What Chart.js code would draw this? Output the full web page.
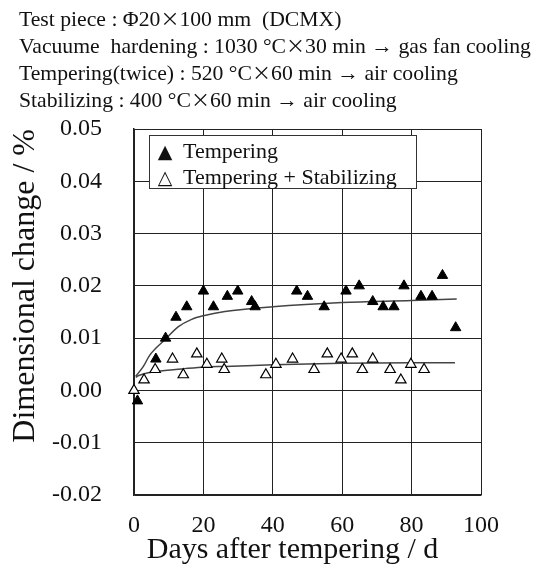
<!DOCTYPE html>
<html><head><meta charset="utf-8">
<script src="https://cdn.jsdelivr.net/npm/chart.js@4.4.1/dist/chart.umd.min.js"></script>
<style>
html,body{margin:0;padding:0;background:#fff;}
#wrap{position:relative;width:543px;height:565px;overflow:hidden;background:#fff;}
#c{position:absolute;left:0;top:0;}
#header{position:absolute;left:19px;top:5px;font-family:"Liberation Serif",serif;font-size:21.7px;line-height:26px;color:#111;white-space:pre;}
.mul{font-family:"Noto Sans CJK JP";font-size:19px;}
#legend{position:absolute;left:149px;top:135px;width:266px;height:52px;border:1px solid #333;background:#fff;font-family:"Liberation Serif",serif;font-size:22px;color:#111;}
#legend .row{position:absolute;left:0;height:26px;line-height:26px;white-space:pre;}
#legend .sym{position:absolute;left:5px;width:20px;text-align:center;font-family:"DejaVu Sans";font-size:19px;}
#legend .lab{position:absolute;left:33px;}
</style></head>
<body><div id="wrap"><canvas id="c" width="543" height="565"></canvas>
<div id="header"></div><div id="legend"></div></div>
<script>
// ---- text ----
const headerLines = [
  "Test piece : \u03A620\u00D7100 mm  (DCMX)",
  "Vacuume  hardening : 1030 \u00B0C\u00D730 min \u2192 gas fan cooling",
  "Tempering(twice) : 520 \u00B0C\u00D760 min \u2192 air cooling",
  "Stabilizing : 400 \u00B0C\u00D760 min \u2192 air cooling"
];
const seriesNames = ["Tempering", "Tempering + Stabilizing"];
const xTitle = "Days after tempering / d";
const yTitle = "Dimensional change / %";
const xTickValues = [0, 20, 40, 60, 80, 100];
const yTickValues = [-0.02, -0.01, 0.00, 0.01, 0.02, 0.03, 0.04, 0.05];

// ---- data: Tempering (filled triangles) ----
const daysTemp   = [1, 6.3, 9.1, 12.1, 15.2, 20, 22.9, 26.9, 29.9, 33.9, 34.9, 46.9, 50, 54.8, 61.1, 64.9, 68.8, 71.8, 74.9, 77.8, 82.7, 85.9, 88.9, 92.7];
const changeTemp = [-0.002, 0.006, 0.010, 0.014, 0.016, 0.019, 0.016, 0.018, 0.019, 0.017, 0.016, 0.019, 0.018, 0.016, 0.019, 0.020, 0.017, 0.016, 0.016, 0.020, 0.018, 0.018, 0.022, 0.012];

// ---- data: Tempering + Stabilizing (open triangles) ----
const daysStab   = [0, 2.9, 6.1, 11.1, 14.2, 18.1, 21, 25.3, 26, 38, 40.9, 45.7, 51.9, 55.7, 59.7, 62.9, 65.8, 68.8, 73.8, 76.9, 79.8, 83.6];
const changeStab = [0.000, 0.002, 0.004, 0.006, 0.003, 0.007, 0.005, 0.006, 0.004, 0.003, 0.005, 0.006, 0.004, 0.007, 0.006, 0.007, 0.004, 0.006, 0.004, 0.002, 0.005, 0.004];

// ---- fitted curves ----
const fitDaysTemp   = [0.5, 2.7, 4.6, 8.9, 12.8, 16.6, 20, 26.2, 40, 60, 80, 93];
const fitChangeTemp = [0.0027, 0.0046, 0.0068, 0.0097, 0.0122, 0.0136, 0.0143, 0.0151, 0.0160, 0.0168, 0.0172, 0.0175];
const fitDaysStab   = [0.5, 1.2, 6, 13.7, 20.5, 26.2, 40, 60, 80, 92.5];
const fitChangeStab = [0.0025, 0.0028, 0.0036, 0.0041, 0.0045, 0.0046, 0.0049, 0.0052, 0.0053, 0.0053];

const pts = (xs, ys) => xs.map((x, i) => ({x: x, y: ys[i]}));

// header
document.getElementById('header').innerHTML = headerLines
  .map(l => l.replace(/\u00D7/g, '<span class="mul">\u00D7</span>')).join('\n');
// legend
document.getElementById('legend').innerHTML =
  '<div class="row" style="top:2px"><span class="sym">\u25B2</span><span class="lab">' + seriesNames[0] + '</span></div>' +
  '<div class="row" style="top:28px"><span class="sym">\u25B3</span><span class="lab">' + seriesNames[1] + '</span></div>';

const serif = 'Liberation Serif';
new Chart(document.getElementById('c'), {
  type: 'scatter',
  data: {
    datasets: [
      {label: seriesNames[0], data: pts(daysTemp, changeTemp), pointStyle: 'triangle', pointRadius: 6,
       backgroundColor: '#000', borderColor: '#000', borderWidth: 1, showLine: false, clip: false, order: 1},
      {label: seriesNames[1], data: pts(daysStab, changeStab), pointStyle: 'triangle', pointRadius: 6,
       backgroundColor: '#fff', borderColor: '#000', borderWidth: 1.2, showLine: false, clip: false, order: 1},
      {label: 'fit1', data: pts(fitDaysTemp, fitChangeTemp), showLine: true, pointRadius: 0,
       borderColor: '#444', borderWidth: 1.5, cubicInterpolationMode: 'monotone', fill: false, order: 2},
      {label: 'fit2', data: pts(fitDaysStab, fitChangeStab), showLine: true, pointRadius: 0,
       borderColor: '#444', borderWidth: 1.5, cubicInterpolationMode: 'monotone', fill: false, order: 2}
    ]
  },
  options: {
    responsive: false, animation: false, devicePixelRatio: 1,
    layout: {padding: {top: 129, right: 62, bottom: 0, left: 0}},
    plugins: {legend: {display: false}, tooltip: {enabled: false}},
    scales: {
      x: {
        type: 'linear', min: 0, max: 100,
        afterBuildTicks: s => { s.ticks = xTickValues.map(v => ({value: v})); },
        afterFit: s => { s.height = 70; },
        grid: {color: '#222', lineWidth: 1, drawTicks: false},
        border: {color: '#222', width: 1.5},
        ticks: {padding: 19, color: '#111', maxRotation: 0, autoSkip: false,
                font: {family: serif, size: 24, lineHeight: 1}, callback: v => String(v)},
        title: {display: true, text: xTitle + '\u2003', color: '#111',
                font: {family: serif, size: 30, lineHeight: 1}, padding: {top: 0, bottom: 0}}
      },
      y: {
        type: 'linear', min: -0.02, max: 0.05,
        afterBuildTicks: s => { s.ticks = yTickValues.map(v => ({value: v})); },
        afterFit: s => { s.width = 134; },
        grid: {color: '#222', lineWidth: 1, drawTicks: false},
        border: {color: '#222', width: 1.5},
        ticks: {padding: 32, color: '#111', font: {family: serif, size: 24}, callback: v => v.toFixed(2)},
        title: {display: true, text: yTitle, color: '#111', align: 'end',
                font: {family: serif, size: 32, lineHeight: 1}, padding: {top: 10, bottom: 0}}
      }
    }
  }
});
</script></body></html>
